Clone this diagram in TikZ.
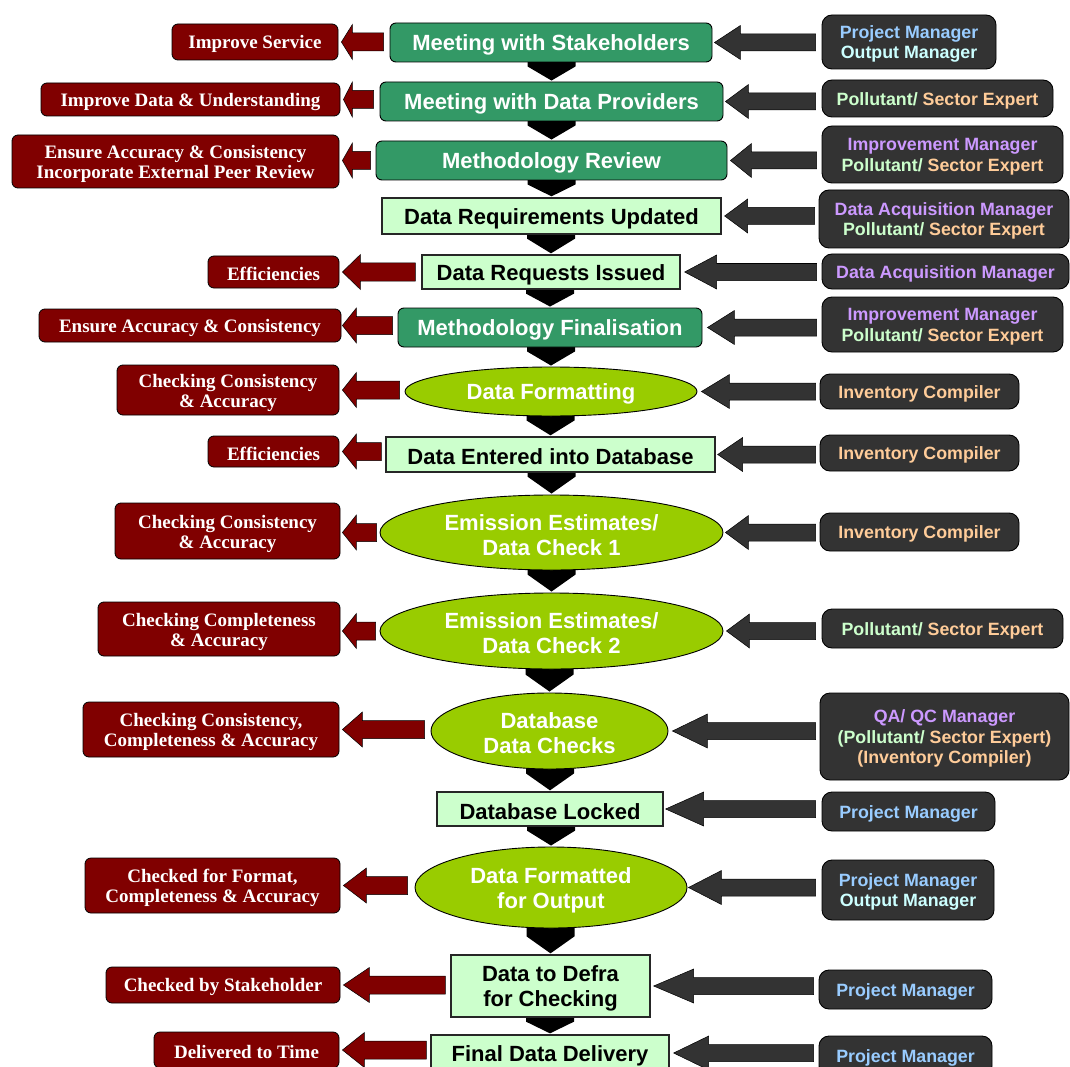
\documentclass[tikz,border=0pt]{standalone}
\usepackage{fontspec}
\setmainfont{Liberation Sans}
\newfontfamily\outfont{Liberation Serif}
\usetikzlibrary{shapes.geometric,calc,backgrounds}
\definecolor{stepgreen}{HTML}{339966}
\definecolor{lightgreen}{HTML}{CCFFCC}
\definecolor{limegreen}{HTML}{99CC00}
\definecolor{outred}{HTML}{800000}
\definecolor{roledark}{HTML}{333333}
\definecolor{pmblue}{HTML}{99CCFF}
\definecolor{omcyan}{HTML}{CCFFFF}
\definecolor{impurple}{HTML}{CC99FF}
\definecolor{polgreen}{HTML}{CCFFCC}
\definecolor{sectan}{HTML}{FFCC99}
\newcommand\lift{\rule{0pt}{0.96em}}
\newcommand\rolePM{\textcolor{pmblue}{Project Manager}}
\newcommand\roleOM{\textcolor{omcyan}{Output Manager}}
\newcommand\roleIM{\textcolor{impurple}{Improvement Manager}}
\newcommand\roleDAM{\textcolor{impurple}{Data Acquisition Manager}}
\newcommand\rolePSE{\textcolor{polgreen}{Pollutant/} \textcolor{sectan}{Sector Expert}}
\newcommand\roleIC{\textcolor{sectan}{Inventory Compiler}}
% block arrow pointing left: fill, tip point, tail point, y point, head length, head half height, shaft half height
\newcommand\blockarrow[7]{%
  \filldraw[fill=#1,draw=black,line width=0.5pt] let \p1=#2, \p2=#3, \p3=#4 in
    (\x1,\y3) -- (\x1+#5pt,\y3+#6pt) -- (\x1+#5pt,\y3+#7pt) -- (\x2,\y3+#7pt)
    -- (\x2,\y3-#7pt) -- (\x1+#5pt,\y3-#7pt) -- (\x1+#5pt,\y3-#6pt) -- cycle;}
% black down arrow between two steps
\newcommand\flowdown[2]{%
  \fill[black] let \p1=(#1.center), \p2=(#1.south), \p3=(#2.north),
    \n1={min(\y2-4pt,\y3+18pt)} in
    (\x3-24pt,\y1) -- (\x3+24pt,\y1) -- (\x3+24pt,\n1) -- (\x3,\y3+1pt)
    -- (\x3-24pt,\n1) -- cycle;}
\tikzset{
  every node/.style={inner sep=0pt, align=center},
  stepfont/.style={font=\bfseries\fontsize{22}{25}\selectfont,
    execute at begin node={\rule{0pt}{21pt}}},
  greenstep/.style={stepfont, draw=black, line width=0.9pt, fill=stepgreen,
    rounded corners=6pt, text=white},
  lightstep/.style={stepfont, draw=black!85, line width=1.3pt, fill=lightgreen, text=black},
  ovalstep/.style={stepfont, ellipse, draw=black, line width=0.9pt, fill=limegreen, text=white},
  outcome/.style={font=\outfont\bfseries\fontsize{19}{20}\selectfont, draw=black,
    line width=0.8pt, fill=outred, rounded corners=6pt, text=white,
    execute at begin node={\rule{0pt}{18pt}}},
  role/.style={font=\bfseries\fontsize{17.8}{20.5}\selectfont, draw=black,
    line width=0.9pt, fill=roledark, rounded corners=10pt,
    execute at begin node={\rule{0pt}{17.5pt}}}
}
\begin{document}
\begin{tikzpicture}[x=1pt,y=-1pt]
\clip (0,0) rectangle (1070,1067);
% steps
\node[greenstep, minimum width=322, minimum height=39] (s1) at (551,42.5) {Meeting with Stakeholders};
\node[greenstep, minimum width=343, minimum height=39] (s2) at (551.5,101.5) {Meeting with Data Providers};
\node[greenstep, minimum width=351, minimum height=39] (s3) at (551.5,160.5) {Methodology Review};
\node[lightstep, minimum width=339, minimum height=36] (s4) at (551.5,216) {Data Requirements Updated};
\node[lightstep, minimum width=258, minimum height=34] (s5) at (551,272) {Data Requests Issued};
\node[greenstep, minimum width=304, minimum height=39] (s6) at (550,327.5) {Methodology Finalisation};
\node[ovalstep, minimum width=292, minimum height=49] (s7) at (551,391.5) {Data Formatting};
\node[lightstep, minimum width=329, minimum height=35] (s8) at (550.5,454.5) {Data Entered into Database};
\node[ovalstep, minimum width=343, minimum height=75] (s9) at (551.5,532.5) {\lift Emission Estimates/\\Data Check 1};
\node[ovalstep, minimum width=343, minimum height=76] (s10) at (551.5,631) {\lift Emission Estimates/\\Data Check 2};
\node[ovalstep, minimum width=237, minimum height=76] (s11) at (549.5,731) {\lift Database\\Data Checks};
\node[lightstep, minimum width=226, minimum height=34] (s12) at (550,809) {Database Locked};
\node[ovalstep, minimum width=272, minimum height=81] (s13) at (551,887.5) {\lift Data Formatted\\for Output};
\node[lightstep, minimum width=199, minimum height=62] (s14) at (550.5,986) {\lift Data to Defra\\for Checking};
\node[lightstep, minimum width=238, minimum height=36] (s15) at (550,1053) {Final Data Delivery};
% outcomes
\node[outcome, minimum width=166, minimum height=36] (r1) at (255,42) {Improve Service};
\node[outcome, minimum width=299, minimum height=33] (r2) at (190.5,99.5) {Improve Data \& Understanding};
\node[outcome, minimum width=327, minimum height=53] (r3) at (175.5,161.5) {\lift Ensure Accuracy \& Consistency\\Incorporate External Peer Review};
\node[outcome, minimum width=131, minimum height=32] (r5) at (273.5,272) {Efficiencies};
\node[outcome, minimum width=302, minimum height=33] (r6) at (190,325.5) {Ensure Accuracy \& Consistency};
\node[outcome, minimum width=222, minimum height=50] (r7) at (228,390) {\lift Checking Consistency\\\& Accuracy};
\node[outcome, minimum width=131, minimum height=31] (r8) at (273.5,451.5) {Efficiencies};
\node[outcome, minimum width=225, minimum height=56] (r9) at (227.5,531) {\lift Checking Consistency\\\& Accuracy};
\node[outcome, minimum width=242, minimum height=54] (r10) at (219,629) {\lift Checking Completeness\\\& Accuracy};
\node[outcome, minimum width=256, minimum height=55] (r11) at (211,729.5) {\lift Checking Consistency,\\Completeness \& Accuracy};
\node[outcome, minimum width=255, minimum height=55] (r13) at (212.5,885.5) {\lift Checked for Format,\\Completeness \& Accuracy};
\node[outcome, minimum width=234, minimum height=36] (r14) at (223,985) {Checked by Stakeholder};
\node[outcome, minimum width=185, minimum height=36] (r15) at (246.5,1050) {Delivered to Time};
% roles
\node[role, minimum width=174, minimum height=54] (d1) at (909,42) {\lift\rolePM\\\roleOM};
\node[role, minimum width=231, minimum height=37] (d2) at (937.5,98.5) {\rolePSE};
\node[role, minimum width=241, minimum height=57] (d3) at (942.5,154.5) {\lift\roleIM\\\rolePSE};
\node[role, minimum width=250, minimum height=58] (d4) at (944,219) {\lift\roleDAM\\\rolePSE};
\node[role, minimum width=247, minimum height=35] (d5) at (945.5,271.5) {\roleDAM};
\node[role, minimum width=241, minimum height=55] (d6) at (942.5,324.5) {\lift\roleIM\\\rolePSE};
\node[role, minimum width=199, minimum height=35] (d7) at (919.5,391.5) {\roleIC};
\node[role, minimum width=199, minimum height=36] (d8) at (919.5,453) {\roleIC};
\node[role, minimum width=199, minimum height=38] (d9) at (919.5,532) {\roleIC};
\node[role, minimum width=241, minimum height=39] (d10) at (942.5,628.5) {\rolePSE};
\node[role, minimum width=249, minimum height=87] (d11) at (944.5,736.5) {\lift\textcolor{impurple}{QA/ QC Manager}\\\textcolor{polgreen}{(Pollutant/} \textcolor{sectan}{Sector Expert)}\\\textcolor{sectan}{(Inventory Compiler)}};
\node[role, minimum width=173, minimum height=39] (d12) at (908.5,811.5) {\rolePM};
\node[role, minimum width=172, minimum height=60] (d13) at (908,890) {\lift\rolePM\\\roleOM};
\node[role, minimum width=173, minimum height=39] (d14) at (905.5,989.5) {\rolePM};
\node[role, minimum width=173, minimum height=40] (d15) at (905.5,1056) {\rolePM};
% down arrows behind the steps
\begin{pgfonlayer}{background}
\flowdown{s1}{s2}
\flowdown{s2}{s3}
\flowdown{s3}{s4}
\flowdown{s4}{s5}
\flowdown{s5}{s6}
\flowdown{s6}{s7}
\flowdown{s7}{s8}
\flowdown{s8}{s9}
\flowdown{s9}{s10}
\flowdown{s10}{s11}
\flowdown{s11}{s12}
\flowdown{s12}{s13}
\flowdown{s13}{s14}
\flowdown{s14}{s15}
\end{pgfonlayer}
% outcome arrows (step -> outcome)
\blockarrow{outred}{($(r1.east)+(3,0)$)}{($(s1.west)+(-6,0)$)}{(r1.center)}{11}{17.5}{9}
\blockarrow{outred}{($(r2.east)+(3,0)$)}{($(s2.west)+(-6,0)$)}{(r2.center)}{9}{17.5}{9}
\blockarrow{outred}{($(r3.east)+(3,0)$)}{($(s3.west)+(-5,0)$)}{(s3.center)}{10}{17.5}{9}
\blockarrow{outred}{($(r5.east)+(3,0)$)}{($(s5.west)+(-6,0)$)}{(r5.center)}{18}{17.5}{9}
\blockarrow{outred}{($(r6.east)+(1,0)$)}{($(s6.west)+(-5,0)$)}{(r6.center)}{14}{17.5}{9}
\blockarrow{outred}{($(r7.east)+(3,0)$)}{($(s7.west)+(-5,0)$)}{(r7.center)}{14}{17.5}{9}
\blockarrow{outred}{($(r8.east)+(3,0)$)}{($(s8.west)+(-4,0)$)}{(r8.center)}{14}{17.5}{9}
\blockarrow{outred}{($(r9.east)+(2,0)$)}{($(s9.west)+(-3,0)$)}{(s9.center)}{14}{17.5}{9}
\blockarrow{outred}{($(r10.east)+(2,0)$)}{($(s10.west)+(-4,0)$)}{(s10.center)}{14}{17.5}{9}
\blockarrow{outred}{($(r11.east)+(3,0)$)}{($(s11.west)+(-6,0)$)}{(r11.center)}{20}{17.5}{9}
\blockarrow{outred}{($(r13.east)+(3,0)$)}{($(s13.west)+(-7,0)$)}{(r13.center)}{23}{17.5}{9}
\blockarrow{outred}{($(r14.east)+(3,0)$)}{($(s14.west)+(-5,0)$)}{(r14.center)}{26}{17.5}{9}
\blockarrow{outred}{($(r15.east)+(3,0)$)}{($(s15.west)+(-4,0)$)}{(r15.center)}{22}{17.5}{9}
% role arrows (role -> step)
\blockarrow{roledark}{($(s1.east)+(2,0)$)}{($(d1.west)+(-6,0)$)}{(s1.center)}{26}{17}{8.5}
\blockarrow{roledark}{($(s2.east)+(2,0)$)}{($(d2.west)+(-6,0)$)}{(s2.center)}{23}{17}{8.5}
\blockarrow{roledark}{($(s3.east)+(3,0)$)}{($(d3.west)+(-5,0)$)}{(s3.center)}{21}{17}{8.5}
\blockarrow{roledark}{($(s4.east)+(3,0)$)}{($(d4.west)+(-4,0)$)}{(s4.center)}{23}{17}{8.5}
\blockarrow{roledark}{($(s5.east)+(4,0)$)}{($(d5.west)+(-5,0)$)}{(s5.center)}{32}{17}{8.5}
\blockarrow{roledark}{($(s6.east)+(5,0)$)}{($(d6.west)+(-5,0)$)}{(s6.center)}{27}{17}{8.5}
\blockarrow{roledark}{($(s7.east)+(4,0)$)}{($(d7.west)+(-4,0)$)}{(s7.center)}{28}{17}{8.5}
\blockarrow{roledark}{($(s8.east)+(2,0)$)}{($(d8.west)+(-4,0)$)}{(s8.center)}{25}{17}{8.5}
\blockarrow{roledark}{($(s9.east)+(2,0)$)}{($(d9.west)+(-4,0)$)}{(s9.center)}{23}{17}{8.5}
\blockarrow{roledark}{($(s10.east)+(3,0)$)}{($(d10.west)+(-6,0)$)}{(s10.center)}{23}{17}{8.5}
\blockarrow{roledark}{($(s11.east)+(4,0)$)}{($(d11.west)+(-4,0)$)}{(s11.center)}{35}{17}{8.5}
\blockarrow{roledark}{($(s12.east)+(2,0)$)}{($(d12.west)+(-6,0)$)}{(s12.center)}{38}{17}{8.5}
\blockarrow{roledark}{($(s13.east)+(1,0)$)}{($(d13.west)+(-6,0)$)}{(s13.center)}{33}{17}{8.5}
\blockarrow{roledark}{($(s14.east)+(3,0)$)}{($(d14.west)+(-5,0)$)}{(s14.center)}{40}{17}{8.5}
\blockarrow{roledark}{($(s15.east)+(4,0)$)}{($(d15.west)+(-5,0)$)}{(s15.center)}{35}{17}{8.5}
\end{tikzpicture}
\end{document}
